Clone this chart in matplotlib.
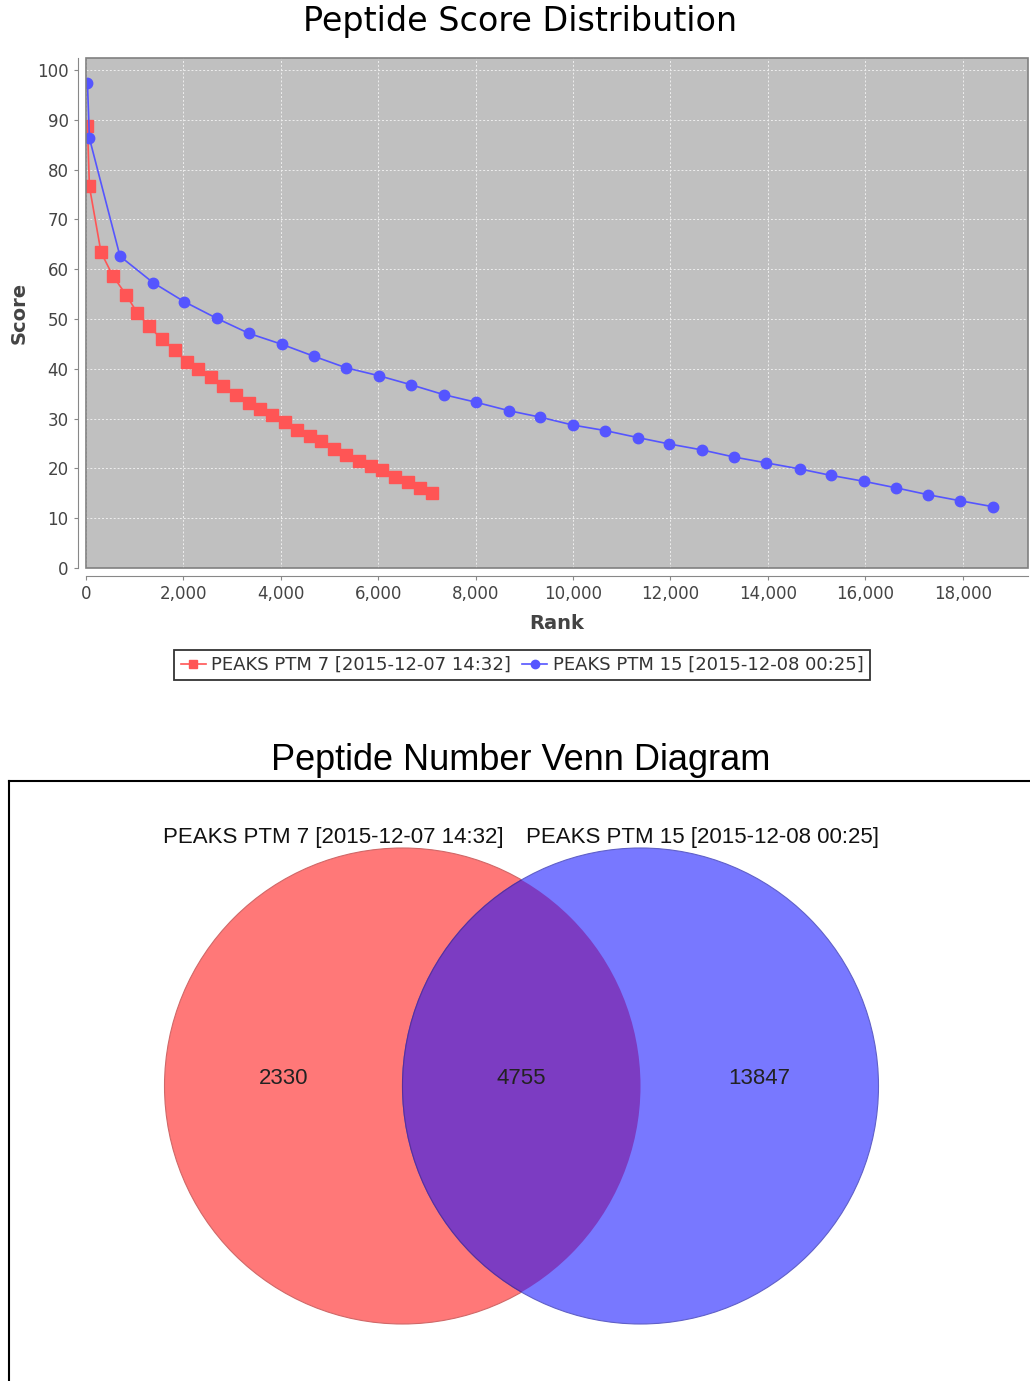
import matplotlib
matplotlib.use('Agg')
import matplotlib.pyplot as plt
from matplotlib.patches import Circle, Rectangle
from matplotlib.ticker import FuncFormatter, MultipleLocator

# score distribution data
run_names = ['PEAKS PTM 7 [2015-12-07 14:32]', 'PEAKS PTM 15 [2015-12-08 00:25]']

red_rank = [30, 70, 308, 554, 821, 1047, 1294, 1561, 1828, 2074, 2300, 2567, 2813, 3080, 3347,
            3573, 3819, 4086, 4333, 4600, 4825, 5092, 5339, 5606, 5852, 6078, 6345, 6612, 6858, 7105]
red_score = [88.7, 76.6, 63.4, 58.6, 54.9, 51.3, 48.5, 45.9, 43.7, 41.4, 40.0, 38.4, 36.6, 34.8, 33.2,
             32.0, 30.8, 29.4, 27.8, 26.6, 25.4, 23.9, 22.7, 21.5, 20.5, 19.7, 18.3, 17.3, 16.1, 15.1]

blue_rank = [30, 70, 698, 1376, 2012, 2690, 3347, 4025, 4682, 5339, 6016, 6670, 7347, 7998, 8676,
             9319, 9996, 10656, 11323, 11975, 12651, 13296, 13971, 14649, 15292, 15975, 16628, 17295, 17948, 18624]
blue_score = [97.4, 86.3, 62.6, 57.3, 53.5, 50.1, 47.1, 44.9, 42.5, 40.2, 38.6, 36.8, 34.8, 33.3, 31.6,
              30.3, 28.7, 27.6, 26.2, 24.9, 23.7, 22.3, 21.1, 19.9, 18.6, 17.4, 16.1, 14.7, 13.5, 12.3]

# venn counts
only_a = 2330
shared = 4755
only_b = 13847

RED = '#FF5555'
BLUE = '#5555FF'

fig = plt.figure(figsize=(10.3, 13.81), dpi=100)

#################################################
## score distribution
#################################################
ax = fig.add_axes([86 / 1030, 1 - 568 / 1381, 942 / 1030, 510 / 1381])
ax.set_facecolor('#C0C0C0')
ax.plot(red_rank, red_score, '-', color=RED, lw=1.2, marker='s', ms=8, label=run_names[0], zorder=3)
ax.plot(blue_rank, blue_score, '-', color=BLUE, lw=1.2, marker='o', ms=7.5, label=run_names[1], zorder=3)
ax.set_xlim(0, 19340)
ax.set_ylim(0, 102.4)
ax.xaxis.set_major_locator(MultipleLocator(2000))
ax.yaxis.set_major_locator(MultipleLocator(10))
ax.xaxis.set_major_formatter(FuncFormatter(lambda v, p: '{:,}'.format(int(v))))
ax.grid(color='#EEEEEE', linestyle=(0, (2, 2)), lw=0.7)

for s in ['top', 'right']:
    ax.spines[s].set_visible(False)
for s in ['left', 'bottom']:
    ax.spines[s].set_position(('outward', 6))
    ax.spines[s].set_color('#888888')
ax.add_patch(Rectangle((0, 0), 1, 1, transform=ax.transAxes, fill=False,
                       edgecolor='#808080', lw=1.2, clip_on=False, zorder=4))
ax.tick_params(colors='#888888', labelcolor='#444444', labelsize=12, length=3)
ax.set_xlabel('Rank', fontsize=14, fontweight='bold', color='#444444', labelpad=8)
ax.set_ylabel('Score', fontsize=14, fontweight='bold', color='#444444', labelpad=6)

fig.text(0.505, 1 - 22 / 1381, 'Peptide Score Distribution', ha='center', va='center', fontsize=24)

leg = fig.legend(loc='center', bbox_to_anchor=(522 / 1030, 1 - 665 / 1381), ncol=2,
                 fontsize=13, frameon=True, fancybox=False, edgecolor='black',
                 handlelength=1.4, handletextpad=0.3, columnspacing=0.6,
                 borderpad=0.35, markerscale=0.8)
leg.get_frame().set_linewidth(1.3)
for t in leg.get_texts():
    t.set_color('#333333')

#################################################
## venn diagram
#################################################
vx = fig.add_axes([9 / 1030, 0, 1021 / 1030, 600 / 1381])
vx.set_xlim(9, 1030)
vx.set_ylim(1381, 781)
vx.set_xticks([])
vx.set_yticks([])
for s in ['right', 'bottom']:
    vx.spines[s].set_visible(False)
for s in ['left', 'top']:
    vx.spines[s].set_linewidth(1.5)

r = 238
cx, cy = 521.5, 1086
a = Circle((cx - r / 2, cy), r, facecolor='#FF7878', edgecolor='#D06868', lw=0.8)
b = Circle((cx + r / 2, cy), r, facecolor='#7878FF', edgecolor='#6060C8', lw=0.8)
vx.add_patch(a)
vx.add_patch(b)
lens = Circle((cx + r / 2, cy), r, facecolor='#7C3CC2', edgecolor='#5A2F9A', lw=0.8)
vx.add_patch(lens)
lens.set_clip_path(a)

vfont = 'Liberation Sans'
vx.text(cx - r * 1.0, cy - 8, str(only_a), ha='center', va='center', fontsize=16, family=vfont, color='#222222')
vx.text(cx, cy - 8, str(shared), ha='center', va='center', fontsize=16, family=vfont, color='#222222')
vx.text(cx + r * 1.0, cy - 8, str(only_b), ha='center', va='center', fontsize=16, family=vfont, color='#222222')
vx.text(333, 837, run_names[0], ha='center', va='center', fontsize=16, family=vfont, color='#111111')
vx.text(703, 837, run_names[1], ha='center', va='center', fontsize=16, family=vfont, color='#111111')

fig.text(521 / 1030, 1 - 760 / 1381, 'Peptide Number Venn Diagram', ha='center', va='center',
         fontsize=26, family=vfont)

fig.savefig('out.png', dpi=100)
